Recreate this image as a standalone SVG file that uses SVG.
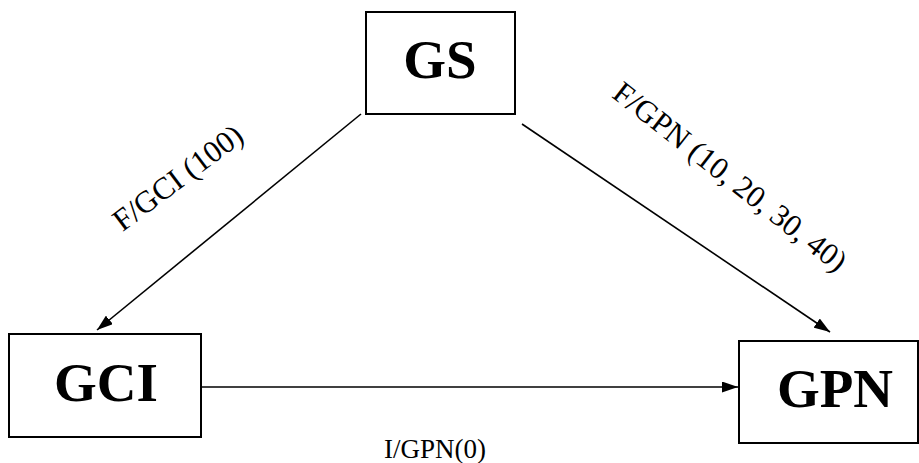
<svg xmlns="http://www.w3.org/2000/svg" width="919" height="463" viewBox="0 0 919 463">
  <style>
    .box { fill: #fff; stroke: #000; stroke-width: 2; }
    .name { font-family: "Liberation Serif", "Times New Roman", serif; font-weight: bold; font-size: 55px; text-anchor: middle; fill: #000; }
    .edge { stroke: #000; stroke-width: 1.6; fill: none; marker-end: url(#head); }
    .lbl { font-family: "Liberation Serif", "Times New Roman", serif; font-size: 31px; text-anchor: middle; fill: #000; }
  </style>
  <defs>
    <marker id="head" viewBox="0 0 16 11" refX="16" refY="5.5" markerWidth="16" markerHeight="11" markerUnits="userSpaceOnUse" orient="auto">
      <path d="M0,0 L16,5.5 L0,11 Z" fill="#000"/>
    </marker>
  </defs>
  <rect width="919" height="463" fill="#fff"/>

  <g id="connectors">
    <line class="edge" x1="361" y1="114" x2="97" y2="330"/>
    <line class="edge" x1="522" y1="124" x2="830" y2="332"/>
    <line class="edge" x1="201" y1="387" x2="738" y2="387"/>
    <text class="lbl" transform="translate(178,178) rotate(-37)" y="10">F/GCI (100)</text>
    <text class="lbl" transform="translate(730,177) rotate(38)" y="10">F/GPN (10, 20, 30, 40)</text>
    <text class="lbl" x="435" y="458" style="font-size:27px">I/GPN(0)</text>
  </g>

  <g id="GS">
    <rect class="box" x="366" y="12" width="149" height="102"/>
    <text class="name" x="440" y="78">GS</text>
  </g>
  <g id="GCI">
    <rect class="box" x="9" y="334" width="192" height="103"/>
    <text class="name" x="106" y="401">GCI</text>
  </g>
  <g id="GPN">
    <rect class="box" x="739" y="341" width="179" height="102"/>
    <text class="name" x="835" y="407">GPN</text>
  </g>
</svg>
